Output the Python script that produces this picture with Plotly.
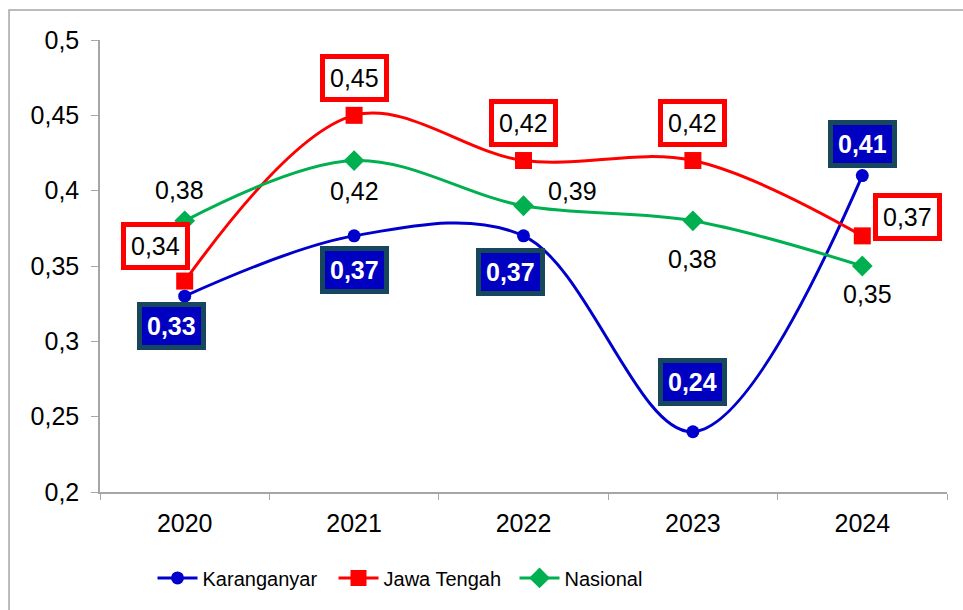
import plotly.graph_objects as go

years = ["2020", "2021", "2022", "2023", "2024"]
karanganyar = [0.33, 0.37, 0.37, 0.24, 0.41]
jawa_tengah = [0.34, 0.45, 0.42, 0.42, 0.37]
nasional = [0.38, 0.42, 0.39, 0.38, 0.35]

# label offsets (pixels) for each series
k_off = [(-13, -30), (0, -34), (-13, -36), (0, 50), (0, 32)]
j_off = [(-29, 35), (0, 37), (0, 38), (0, 38), (45, 19)]
n_off = [(-5, 31), (0, -30), (49, 15), (0, -38), (5, -28)]

FONT = "Arial, Liberation Sans, sans-serif"
BLUE = "#0000CC"
RED = "#FF0000"
GREEN = "#00B050"

fig = go.Figure()
fig.add_trace(go.Scatter(x=years, y=karanganyar, name="Karanganyar", mode="lines+markers",
                         line=dict(color=BLUE, width=3, shape="spline", smoothing=1),
                         marker=dict(symbol="circle", size=13, color=BLUE)))
fig.add_trace(go.Scatter(x=years, y=jawa_tengah, name="Jawa Tengah", mode="lines+markers",
                         line=dict(color=RED, width=3, shape="spline", smoothing=1),
                         marker=dict(symbol="square", size=17, color=RED)))
fig.add_trace(go.Scatter(x=years, y=nasional, name="Nasional", mode="lines+markers",
                         line=dict(color=GREEN, width=3, shape="spline", smoothing=1),
                         marker=dict(symbol="diamond", size=16, color=GREEN)))

def fmt(v):
    return f"{v:.2f}".replace(".", ",")

ann = []
for i, (v, (dx, dy)) in enumerate(zip(karanganyar, k_off)):
    ann.append(dict(x=i, y=v, text="<b>" + fmt(v) + "</b>", showarrow=False, xshift=dx, yshift=dy,
                    font=dict(family=FONT, size=25, color="white"),
                    bgcolor="#0000C0", bordercolor="#17475C", borderwidth=5, borderpad=5))
for i, (v, (dx, dy)) in enumerate(zip(jawa_tengah, j_off)):
    ann.append(dict(x=i, y=v, text=fmt(v), showarrow=False, xshift=dx, yshift=dy,
                    font=dict(family=FONT, size=25, color="black"),
                    bgcolor="white", bordercolor=RED, borderwidth=5, borderpad=5))
for i, (v, (dx, dy)) in enumerate(zip(nasional, n_off)):
    ann.append(dict(x=i, y=v, text=fmt(v), showarrow=False, xshift=dx, yshift=dy,
                    font=dict(family=FONT, size=25, color="black")))

fig.update_layout(
    width=963, height=610,
    margin=dict(l=100, r=16, t=40, b=118),
    paper_bgcolor="white", plot_bgcolor="white",
    separators=", ",
    font=dict(family=FONT, size=25, color="black"),
    annotations=ann,
    showlegend=True,
    legend=dict(orientation="h", x=0.062, y=-0.19, xanchor="left", yanchor="middle",
                font=dict(family=FONT, size=20, color="black"), itemwidth=40,
                entrywidth=126, entrywidthmode="pixels"),
    shapes=[dict(type="rect", xref="paper", yref="paper", x0=-0.1074, x1=1.2, y0=-0.5, y1=1.0664,
                 line=dict(color="#A6A6A6", width=1.5), layer="below")],
)
fig.update_xaxes(type="category", range=[-0.5, 4.5], showline=True, linecolor="#A6A6A6", linewidth=1.5,
                 ticks="outside", tickson="boundaries", ticklen=6, tickcolor="#A6A6A6",
                 showgrid=False, tickfont=dict(family=FONT, size=25), zeroline=False, tickangle=0,
                 ticklabelstandoff=8)
fig.update_yaxes(range=[0.2, 0.5], dtick=0.05, tickformat=".2~f", showline=True,
                 linecolor="#A6A6A6", linewidth=1.5, ticks="outside", ticklen=7,
                 tickcolor="#A6A6A6", showgrid=False, zeroline=False,
                 tickfont=dict(family=FONT, size=25), ticklabelstandoff=7)

fig.write_html("out.html", config={"displayModeBar": False},
               post_script="document.body.style.margin='0';")
